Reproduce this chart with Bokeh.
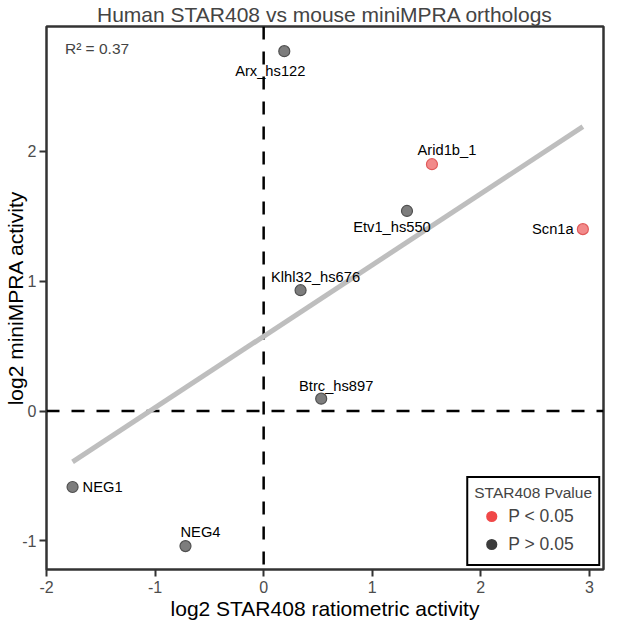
import numpy as np
from bokeh.plotting import figure
from bokeh.models import (ColumnDataSource, Range1d, FixedTicker, Label, Span,
                          Legend, LegendItem)
from bokeh.core.properties import value
from bokeh.embed import file_html
from bokeh.resources import INLINE

# ---- data ----
names = ["Arx_hs122", "Arid1b_1", "Etv1_hs550", "Scn1a",
         "Klhl32_hs676", "Btrc_hs897", "NEG1", "NEG4"]
star408 = [0.19, 1.55, 1.32, 2.94, 0.34, 0.53, -1.76, -0.72]
minimpra = [2.77, 1.90, 1.54, 1.40, 0.93, 0.095, -0.585, -1.04]
significant = [False, True, False, True, False, False, False, False]
x_ticks = [-2, -1, 0, 1, 2, 3]
y_ticks = [-1, 0, 1, 2]
legend_labels = ["P < 0.05", "P > 0.05"]
title_text = "Human STAR408 vs mouse miniMPRA orthologs"
x_title = "log2 STAR408 ratiometric activity"
y_title = "log2 miniMPRA activity"

# label placement (screen px offsets relative to each point, like ggrepel)
label_dx = [-14, 15, -15, -30, 15, 15, 30, 15]
label_dy = [20, -14, 16, 0, -13, -13, 0, -14]

FONT = "Liberation Sans"

p = figure(width=608, height=625,
           x_range=Range1d(-2.0, 3.13), y_range=Range1d(-1.22, 2.96),
           output_backend="svg", toolbar_location=None, title=title_text,
           min_border_left=46, min_border_right=5, min_border_top=25,
           min_border_bottom=56)

p.title.text_font = FONT
p.title.text_font_size = "21px"
p.title.text_font_style = "normal"
p.title.align = "center"
p.title.standoff = 1

p.grid.visible = False
p.background_fill_color = "white"
p.outline_line_color = "#333333"
p.outline_line_width = 2.5
p.outline_line_alpha = 1

p.xaxis.ticker = FixedTicker(ticks=x_ticks)
p.yaxis.ticker = FixedTicker(ticks=y_ticks)
p.xaxis.major_label_overrides = {t: str(t) for t in x_ticks}
p.yaxis.major_label_overrides = {t: str(t) for t in y_ticks}
p.xaxis.axis_label = x_title
p.yaxis.axis_label = y_title
for ax in (p.xaxis, p.yaxis):
    ax.axis_line_color = None
    ax.major_tick_line_color = "#333333"
    ax.major_tick_line_width = 2
    ax.major_tick_in = 0
    ax.major_tick_out = 7
    ax.minor_tick_line_color = None
    ax.major_label_text_font = FONT
    ax.major_label_text_font_size = "16px"
    ax.major_label_text_color = "#4d4d4d"
    ax.axis_label_text_font = FONT
    ax.axis_label_text_font_size = "21px"
    ax.axis_label_text_font_style = "normal"
    ax.axis_label_text_color = "black"
p.xaxis.major_label_standoff = 4
p.xaxis.axis_label_standoff = 1
p.yaxis.major_label_standoff = 3
p.yaxis.axis_label_standoff = -8

# dashed reference lines at 0
for dim in ("width", "height"):
    p.add_layout(Span(location=0, dimension=dim, line_color="black",
                      line_width=2.5, line_dash="13 12", level="underlay"))

# regression line
xs = np.array(star408)
ys = np.array(minimpra)
slope, intercept = np.polyfit(xs, ys, 1)
r2 = np.corrcoef(xs, ys)[0, 1] ** 2
lx = np.array([xs.min(), xs.max()])
p.line(lx, slope * lx + intercept, line_color="#bebebe", line_width=5)

sig = np.array(significant)
# legend-only renderers (size 0 in the plot; legend draws its own marker)
r_sig = p.scatter(xs[sig], ys[sig], size=0, fill_color="#f04848",
                  line_color="#d83434", line_alpha=0)
r_ns = p.scatter(xs[~sig], ys[~sig], size=0, fill_color="#3c3c3c",
                 line_color="#222222", line_alpha=0)

src = ColumnDataSource(dict(
    x=star408, y=minimpra, name=names, dx=label_dx, dy=label_dy,
    fill=["#f28a8a" if s else "#7d7d7d" for s in significant],
    line=["#e05a5a" if s else "#505050" for s in significant],
))
p.scatter("x", "y", source=src, size=11, fill_color="fill",
          line_color="line", line_width=1.2)

p.text("x", "y", text="name", x_offset="dx", y_offset="dy", source=src,
       text_font=value(FONT), text_font_size=value("14.7px"),
       text_align="center", text_baseline="middle", text_color="black")

p.add_layout(Label(x=-1.83, y=2.79, text=f"R\u00b2 = {r2:.2f}",
                   text_font=FONT, text_font_size="15.5px",
                   text_baseline="middle", text_align="left"))

legend = Legend(items=[LegendItem(label=legend_labels[0], renderers=[r_sig]),
                       LegendItem(label=legend_labels[1], renderers=[r_ns])],
                location="bottom_right", title="STAR408 Pvalue")
legend.title_text_font = FONT
legend.title_text_font_size = "15.5px"
legend.title_text_font_style = "normal"
legend.title_standoff = 0
legend.label_text_font = FONT
legend.label_text_font_size = "17.5px"
legend.border_line_color = "black"
legend.border_line_alpha = 1
legend.border_line_width = 2
legend.padding = 6
legend.spacing = -7
legend.margin = 3
legend.glyph_width = 34
legend.glyph_height = 28
legend.label_height = 28
legend.label_standoff = -6
legend.background_fill_alpha = 1
p.add_layout(legend)

open("out.html", "w").write(file_html(p, INLINE))
